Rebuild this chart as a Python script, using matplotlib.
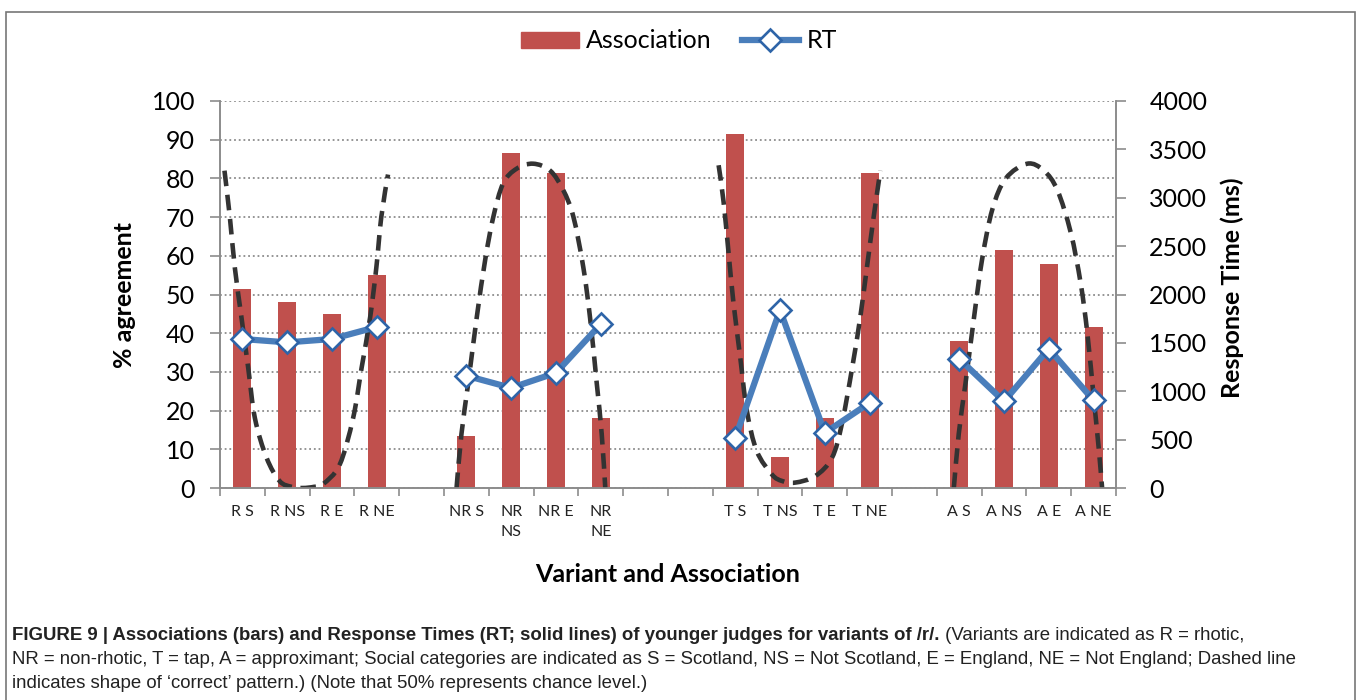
import numpy as np
import matplotlib
matplotlib.use("Agg")
import matplotlib.pyplot as plt
from matplotlib import font_manager
from matplotlib.lines import Line2D
from matplotlib.patches import Patch, Rectangle, PathPatch
from matplotlib.path import Path

# categories (blank entries are the gaps between variant groups)
categories = ['R S', 'R NS', 'R E', 'R NE', '',
              'NR S', 'NR\nNS', 'NR E', 'NR\nNE', '', '',
              'T S', 'T NS', 'T E', 'T NE', '',
              'A S', 'A NS', 'A E', 'A NE']

# % agreement (bars)
association = [51.5, 48, 45, 55, np.nan,
               13.5, 86.5, 81.5, 18, np.nan, np.nan,
               91.5, 8, 18, 81.5, np.nan,
               38, 61.5, 58, 41.5]

# response times in ms
rt = [1540, 1505, 1540, 1665, np.nan,
      1160, 1035, 1190, 1695, np.nan, np.nan,
      515, 1840, 570, 880, np.nan,
      1335, 895, 1440, 905]

# dashed 'correct pattern' curves (category position, % value)
curve_r_x = [-0.4, -0.28, -0.17, -0.02, 0.13, 0.28, 0.54, 0.83, 1.1, 1.35, 1.6, 1.8, 2.17, 2.47, 2.66, 2.85, 2.99, 3.1, 3.25]
curve_r_y = [82, 70, 57, 44, 31, 18, 7.8, 1.8, 0.3, 0, 0.3, 1, 6, 18, 31, 44, 57, 70, 81]
curve_nr_x = [4.78, 4.89, 5.04, 5.23, 5.42, 5.6, 5.82, 6.12, 6.49, 6.87, 7.16, 7.39, 7.61, 7.76, 7.91, 8.02, 8.1]
curve_nr_y = [0, 14, 27, 44, 59, 70, 78.7, 82.5, 83.8, 82, 77, 70, 57, 44, 27, 14, 0]
curve_t_x = [10.63, 10.74, 10.85, 10.96, 11.11, 11.26, 11.48, 11.82, 12.05, 12.34, 12.79, 13.16, 13.38, 13.61, 13.79, 13.94, 14.09, 14.24]
curve_t_y = [83.4, 74, 61, 48, 34, 20, 9.6, 3.5, 1.8, 1.4, 3.1, 7.8, 16.5, 31, 44, 57, 70, 82]
curve_a_x = [15.88, 15.99, 16.14, 16.33, 16.51, 16.74, 17.04, 17.52, 17.89, 18.19, 18.49, 18.71, 18.86, 19.01, 19.12, 19.19]
curve_a_y = [0, 14, 27, 44, 59, 72, 80, 83.8, 82, 77, 66, 53, 40, 22.5, 9.6, 0]

curves = [(curve_r_x, curve_r_y), (curve_nr_x, curve_nr_y),
          (curve_t_x, curve_t_y), (curve_a_x, curve_a_y)]

left_ticks = list(range(0, 101, 10))
right_ticks = list(range(0, 4001, 500))

caption_bold = "FIGURE 9 | Associations (bars) and Response Times (RT; solid lines) of younger judges for variants of /r/."
caption_lines = [" (Variants are indicated as R = rhotic,",
                 "NR = non-rhotic, T = tap, A = approximant; Social categories are indicated as S = Scotland, NS = Not Scotland, E = England, NE = Not England; Dashed line",
                 "indicates shape of \u2018correct\u2019 pattern.) (Note that 50% represents chance level.)"]


def smooth_path(xs, ys):
    # Bezier segments through the read points (like a smoothed Excel line)
    p = np.column_stack([xs, ys])
    n = len(p)
    verts = [p[0]]
    codes = [Path.MOVETO]
    for i in range(n - 1):
        p0 = p[i - 1] if i > 0 else p[i]
        p3 = p[i + 2] if i + 2 < n else p[i + 1]
        c1 = p[i] + (p[i + 1] - p0) / 6
        c2 = p[i + 1] - (p3 - p[i]) / 6
        verts += [c1, c2, p[i + 1]]
        codes += [Path.CURVE4] * 3
    return Path(verts, codes)


names = {f.name for f in font_manager.fontManager.ttflist}
main_font = 'Lato' if 'Lato' in names else 'DejaVu Sans'
cap_font = 'Liberation Sans Narrow' if 'Liberation Sans Narrow' in names else 'Liberation Sans'
plt.rcParams['font.family'] = [main_font, 'DejaVu Sans']

bar_color = '#C0504D'
rt_color = '#4A7EBB'
grid_color = '#8C8C8C'
spine_color = '#8C8C8C'

fig = plt.figure(figsize=(13.6, 7), dpi=100)
W, H = 1360, 700
ax = fig.add_axes([220 / W, 1 - 488 / H, (1116 - 220) / W, (488 - 101) / H])
ax2 = ax.twinx()

x = np.arange(len(categories))
ax.bar(x, association, width=0.4, color=bar_color, zorder=2)

ax.set_xlim(-0.5, len(categories) - 0.5)
ax.set_ylim(0, 100)
ax.set_yticks(left_ticks)
ax.set_xticks(x)
ax.set_xticklabels(categories, fontsize=11.5, color='#222222', linespacing=1.6)
ax.set_xticks(np.arange(len(categories) + 1) - 0.5, minor=True)
ax.tick_params(axis='x', which='major', length=0, pad=12)
ax.tick_params(axis='x', which='minor', length=6, width=1.2, color=spine_color, direction='out')
ax.tick_params(axis='y', length=7, width=1.2, color=spine_color, labelsize=18, pad=11)
for t in left_ticks:
    ax.axhline(t, color=grid_color, lw=1.3, ls=(0, (1, 1.6)), zorder=1)

for cx, cy in curves:
    ax.add_patch(PathPatch(smooth_path(cx, cy), fill=False, ec='#333333', lw=3.3,
                           ls=(0, (3.4, 1.9)), capstyle='butt', zorder=4))

ax2.set_ylim(0, 4000)
ax2.set_yticks(right_ticks)
ax2.tick_params(axis='y', length=7, width=1.2, color=spine_color, labelsize=18, pad=17)
ax2.plot(x, rt, color=rt_color, lw=4.5, marker='D', ms=11, mfc='white',
         mec='#2E64A8', mew=1.9, zorder=5)

for a in (ax, ax2):
    a.spines['top'].set_visible(False)
    for s in ('left', 'right', 'bottom'):
        a.spines[s].set_color(spine_color)
        a.spines[s].set_linewidth(1.2)
ax.patch.set_visible(False)
ax2.patch.set_visible(False)

fig.text(125 / W, 1 - 295 / H, '% agreement', rotation=90, ha='center', va='center',
         fontsize=18, fontweight='bold')
fig.text(1232 / W, 1 - 288 / H, 'Response Time (ms)', rotation=90, ha='center', va='center',
         fontsize=18, fontweight='bold')
fig.text(668 / W, 1 - 574 / H, 'Variant and Association', ha='center', va='center',
         fontsize=18, fontweight='bold')

handles = [Patch(color=bar_color, label='Association'),
           Line2D([], [], color=rt_color, lw=4.5, marker='D', ms=11, mfc='white',
                  mec='#2E64A8', mew=1.9, label='RT')]
fig.legend(handles=handles, loc='center', bbox_to_anchor=(679 / W, 1 - 41 / H), ncol=2,
           frameon=False, fontsize=18, handlelength=2.3, handleheight=0.6,
           columnspacing=1.2, handletextpad=0.3)

fig.add_artist(Rectangle((6 / W, -0.01), (1355 - 6) / W, 0.01 + (H - 12) / H,
                         transform=fig.transFigure, fill=False, ec='#777777', lw=1.2))

# caption: bold lead-in followed by regular text
renderer = fig.canvas.get_renderer()
cap_size = 13.4
y0 = 1 - 636 / H
tb = fig.text(12 / W, y0, caption_bold, fontsize=cap_size, fontweight='bold',
              family=[cap_font, 'DejaVu Sans'], va='center', color='#222222')
bb = tb.get_window_extent(renderer)
fig.text(bb.x1 / W, y0, caption_lines[0], fontsize=cap_size,
         family=[cap_font, 'DejaVu Sans'], va='center', color='#222222')
for i, line in enumerate(caption_lines[1:]):
    fig.text(12 / W, y0 - (i + 1) * 24 / H, line, fontsize=cap_size,
             family=[cap_font, 'DejaVu Sans'], va='center', color='#222222')

fig.savefig('out.png', dpi=100)
